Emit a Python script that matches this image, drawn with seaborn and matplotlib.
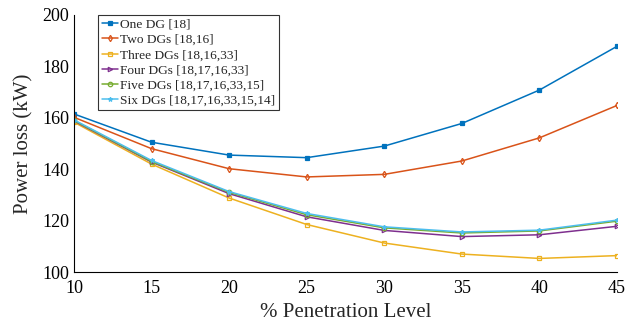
import matplotlib
matplotlib.use('Agg')
import matplotlib.pyplot as plt
import pandas as pd
import seaborn as sns

penetration = [10, 15, 20, 25, 30, 35, 40, 45]
series_names = ['One DG [18]', 'Two DGs [18,16]', 'Three DGs [18,16,33]',
                'Four DGs [18,17,16,33]', 'Five DGs [18,17,16,33,15]',
                'Six DGs [18,17,16,33,15,14]']
one_dg = [161.5, 150.5, 145.5, 144.5, 149.0, 157.8, 170.8, 187.8]
two_dg = [160.2, 148.0, 140.2, 137.0, 138.0, 143.2, 152.2, 164.8]
three_dg = [158.3, 142.0, 128.8, 118.5, 111.3, 107.0, 105.3, 106.4]
four_dg = [158.8, 142.8, 130.5, 121.5, 116.2, 113.8, 114.5, 117.8]
five_dg = [159.0, 143.0, 131.0, 122.3, 117.2, 115.2, 116.0, 119.8]
six_dg = [159.2, 143.4, 131.3, 122.8, 117.6, 115.6, 116.3, 120.2]

colors = ['#0072BD', '#D95319', '#EDB120', '#7E2F8E', '#77AC30', '#4DBEEE']
markers = ['s', 'd', 's', '>', 'o', '*']
fills = [True, False, False, False, False, True]

df = pd.DataFrame({
    'level': penetration * 6,
    'loss': one_dg + two_dg + three_dg + four_dg + five_dg + six_dg,
    'series': [n for n in series_names for _ in penetration],
})

sns.set_style('white')
plt.rcParams['font.family'] = ['Liberation Serif', 'DejaVu Serif']

fig = plt.figure(figsize=(6.27, 3.33), dpi=100)
ax = fig.add_axes([0.118, 0.183, 0.866, 0.772])
for name, c, m, f in zip(series_names, colors, markers, fills):
    sub = df[df['series'] == name]
    sns.lineplot(data=sub, x='level', y='loss', ax=ax, color=c, marker=m,
                 markersize=3.2, linewidth=1.1, label=name,
                 markerfacecolor=c if f else 'none', markeredgecolor=c,
                 markeredgewidth=0.9)

ax.set_xlim(10, 45)
ax.set_ylim(100, 200)
ax.set_xticks(penetration)
ax.set_yticks([100, 120, 140, 160, 180, 200])
ax.tick_params(direction='in', length=4, width=0.8, labelsize=13, colors='black')
ax.tick_params(axis='x', pad=6)
for s in ['top', 'right']:
    ax.spines[s].set_visible(False)
for s in ['left', 'bottom']:
    ax.spines[s].set_color('black')
    ax.spines[s].set_linewidth(0.8)
ax.set_xlabel('% Penetration Level', fontsize=15)
ax.set_ylabel('Power loss (kW)', fontsize=15, labelpad=6)

leg = ax.legend(loc='upper left', bbox_to_anchor=(0.04, 1.01), fontsize=9.6,
                frameon=True, fancybox=False, borderpad=0.25, labelspacing=0.22,
                handlelength=1.2, handletextpad=0.2, borderaxespad=0.2)
leg.get_frame().set_edgecolor('black')
leg.get_frame().set_linewidth(0.8)

fig.savefig('out.png', dpi=100)
